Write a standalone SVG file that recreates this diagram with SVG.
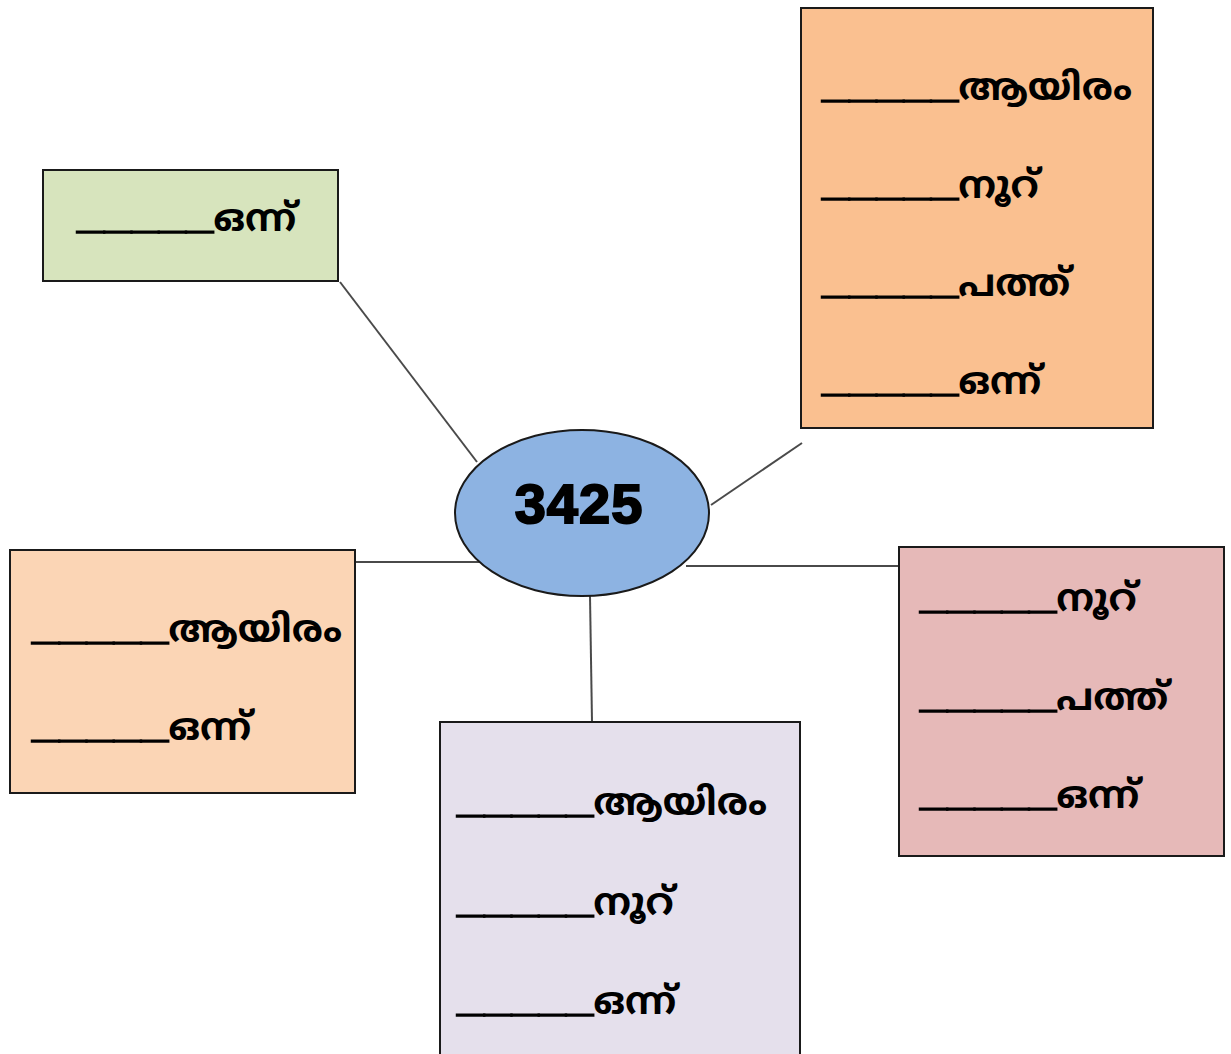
<svg xmlns="http://www.w3.org/2000/svg" width="1231" height="1054" viewBox="0 0 1231 1054">
<style>
.box{stroke:#1a1a1a;stroke-width:2}
.conn{stroke:#4a4a4a;stroke-width:2;fill:none}
.lbl{font-family:"Noto Sans Malayalam","Noto Serif Malayalam","Noto Sans",sans-serif;font-size:38px;font-weight:bold;fill:#000}
.u{font-family:"Liberation Sans",sans-serif;font-size:49px;font-weight:bold;stroke:#000;stroke-width:1.5}
.num{font-family:"Liberation Sans",Arial,sans-serif;font-size:56px;font-weight:bold;fill:#000;stroke:#000;stroke-width:2;letter-spacing:1px}
</style>
<rect width="1231" height="1054" fill="#fff"/>
<g id="connectors">
<line class="conn" x1="340" y1="282" x2="477" y2="462"/>
<line class="conn" x1="802" y1="443" x2="711" y2="505"/>
<line class="conn" x1="355" y1="562" x2="480" y2="562"/>
<line class="conn" x1="686" y1="566" x2="899" y2="566"/>
<line class="conn" x1="590" y1="596" x2="592" y2="722"/>
</g>
<g id="node-ones">
<rect class="box" x="43" y="170" width="295" height="111" fill="#d7e4bd"/>
<text class="lbl" x="77" y="227"><tspan class="u">_____</tspan><tspan dy="4">ഒന്ന്</tspan></text>
</g>
<g id="node-thousands">
<rect class="box" x="801" y="8" width="352" height="420" fill="#fac090"/>
<text class="lbl" x="822" y="96"><tspan class="u">_____</tspan><tspan dy="4">ആയിരം</tspan></text>
<text class="lbl" x="822" y="194"><tspan class="u">_____</tspan><tspan dy="4">നൂറ്</tspan></text>
<text class="lbl" x="822" y="292"><tspan class="u">_____</tspan><tspan dy="4">പത്ത്</tspan></text>
<text class="lbl" x="822" y="390"><tspan class="u">_____</tspan><tspan dy="4">ഒന്ന്</tspan></text>
</g>
<g id="node-center">
<ellipse cx="582" cy="513" rx="127" ry="83" fill="#8db3e2" stroke="#1a1a1a" stroke-width="2"/>
<text class="num" x="579" y="523" text-anchor="middle">3425</text>
</g>
<g id="node-left">
<rect class="box" x="10" y="550" width="345" height="243" fill="#fbd5b5"/>
<text class="lbl" x="32" y="638"><tspan class="u">_____</tspan><tspan dy="4">ആയിരം</tspan></text>
<text class="lbl" x="32" y="736"><tspan class="u">_____</tspan><tspan dy="4">ഒന്ന്</tspan></text>
</g>
<g id="node-right">
<rect class="box" x="899" y="547" width="325" height="309" fill="#e6b9b8"/>
<text class="lbl" x="920" y="607"><tspan class="u">_____</tspan><tspan dy="4">നൂറ്</tspan></text>
<text class="lbl" x="920" y="706"><tspan class="u">_____</tspan><tspan dy="4">പത്ത്</tspan></text>
<text class="lbl" x="920" y="804"><tspan class="u">_____</tspan><tspan dy="4">ഒന്ന്</tspan></text>
</g>
<g id="node-bottom">
<rect class="box" x="440" y="722" width="360" height="340" fill="#e5e0ec"/>
<text class="lbl" x="457" y="811"><tspan class="u">_____</tspan><tspan dy="4">ആയിരം</tspan></text>
<text class="lbl" x="457" y="911"><tspan class="u">_____</tspan><tspan dy="4">നൂറ്</tspan></text>
<text class="lbl" x="457" y="1010"><tspan class="u">_____</tspan><tspan dy="4">ഒന്ന്</tspan></text>
</g>
</svg>
